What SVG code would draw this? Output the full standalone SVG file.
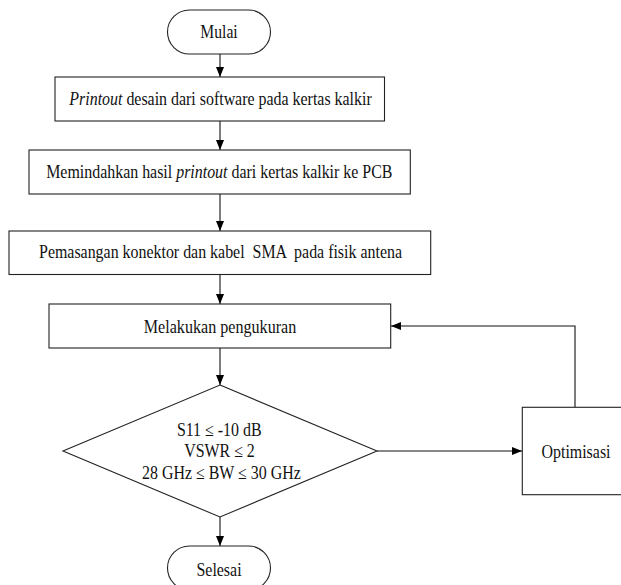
<svg xmlns="http://www.w3.org/2000/svg" width="621" height="585" viewBox="0 0 621 585">
<style>
.n{fill:#fff;stroke:#222;stroke-width:1.1}
.t{font-family:'Liberation Serif','Times New Roman',serif;font-size:18px;fill:#111;text-anchor:middle;white-space:pre}
.c{fill:none;stroke:#111;stroke-width:1.1}
</style>
<defs>
<marker id="ah" markerWidth="10" markerHeight="8" refX="10" refY="4" orient="auto" markerUnits="userSpaceOnUse">
<path d="M0,0 L10,4 L0,8 Z" fill="#000"/>
</marker>
</defs>
<g id="connectors">
<line class="c" x1="220" y1="54" x2="220" y2="77" marker-end="url(#ah)"/>
<line class="c" x1="220" y1="121" x2="220" y2="150" marker-end="url(#ah)"/>
<line class="c" x1="220" y1="194" x2="220" y2="231" marker-end="url(#ah)"/>
<line class="c" x1="220" y1="274" x2="220" y2="304" marker-end="url(#ah)"/>
<line class="c" x1="220" y1="348" x2="220" y2="385" marker-end="url(#ah)"/>
<line class="c" x1="220" y1="517" x2="220" y2="546" marker-end="url(#ah)"/>
<line class="c" x1="377" y1="451" x2="522" y2="451" marker-end="url(#ah)"/>
<polyline class="c" points="575,407 575,326 391,326" marker-end="url(#ah)"/>
</g>
<g id="mulai">
<rect class="n" x="167.5" y="10" width="103" height="44" rx="22" ry="22"/>
<text class="t" transform="translate(219,38) scale(0.87,1)">Mulai</text>
</g>
<g id="printout">
<rect class="n" x="55" y="77" width="329.5" height="44"/>
<text class="t" transform="translate(220.5,105) scale(0.885,1)"><tspan font-style="italic">Printout</tspan> desain dari software pada kertas kalkir</text>
</g>
<g id="memindahkan">
<rect class="n" x="29" y="150" width="381.3" height="44"/>
<text class="t" transform="translate(219.3,178) scale(0.885,1)">Memindahkan hasil <tspan font-style="italic">printout</tspan> dari kertas kalkir ke PCB</text>
</g>
<g id="pemasangan">
<rect class="n" x="9" y="231" width="421.7" height="43.5"/>
<text class="t" transform="translate(220.5,258) scale(0.885,1)">Pemasangan konektor dan kabel  SMA  pada fisik antena</text>
</g>
<g id="pengukuran">
<rect class="n" x="49" y="304" width="341.7" height="44"/>
<text class="t" transform="translate(220,332.5) scale(0.895,1)">Melakukan pengukuran</text>
</g>
<g id="keputusan">
<polygon class="n" points="220,385 377,451 220,517 63,451"/>
<text class="t" transform="translate(219.2,436) scale(0.885,1)">S11 ≤ -10 dB</text>
<text class="t" transform="translate(219.5,457.3) scale(0.885,1)">VSWR ≤ 2</text>
<text class="t" transform="translate(221.4,479) scale(0.885,1)">28 GHz ≤ BW ≤ 30 GHz</text>
</g>
<g id="optimisasi">
<rect class="n" x="522.3" y="407.3" width="106" height="87.4"/>
<text class="t" transform="translate(576,458) scale(0.885,1)">Optimisasi</text>
</g>
<g id="selesai">
<rect class="n" x="167.5" y="546" width="103" height="44" rx="22" ry="22"/>
<text class="t" transform="translate(219,576) scale(0.885,1)">Selesai</text>
</g>
</svg>
